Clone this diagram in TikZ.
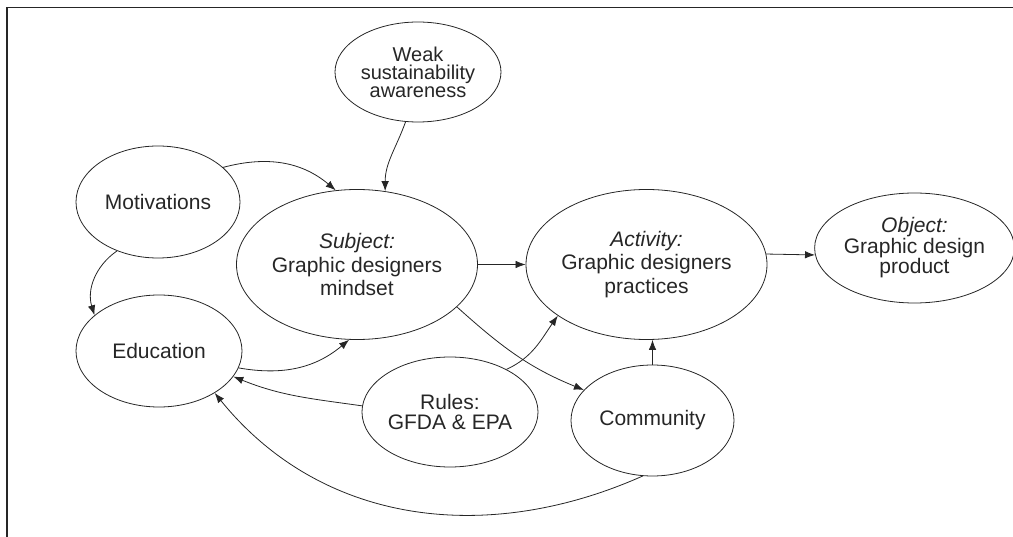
\documentclass[tikz,border=0pt]{standalone}
\usepackage{fontspec}
\setmainfont{Liberation Sans}
\usetikzlibrary{shapes.geometric,arrows.meta}

\tikzset{
  bubble/.style={ellipse, draw=black!85, line width=0.8pt, inner sep=0pt,
    align=center, text=black!85},
  link/.style={draw=black!85, line width=0.8pt,
    -{Latex[length=10pt,width=7.5pt]}},
  tight/.style={font=\fontsize{20}{18}\selectfont},
  loose/.style={font=\fontsize{21}{23.5}\selectfont},
  mid/.style={font=\fontsize{21}{20.5}\selectfont},
}

\begin{document}
\begin{tikzpicture}[x=1pt,y=1pt]
  \useasboundingbox (0,0) rectangle (1013,-537);
  % frame edges along the top and left
  \draw[line width=1.8pt, black!85] (7,-537) -- (7,-7.5) -- (1013,-7.5);

  % nodes
  \node[bubble, tight, minimum width=166, minimum height=100] (weak) at (418,-72)
    {Weak\\sustainability\\awareness};
  \node[bubble, mid, minimum width=164, minimum height=112] (mot) at (158,-202)
    {Motivations};
  \node[bubble, loose, minimum width=222, minimum height=150] (subj) at (357,-264.5)
    {\textit{Subject:}\\Graphic designers\\mindset};
  \node[bubble, loose, minimum width=217, minimum height=150] (act) at (646.5,-264.5)
    {\textit{Activity:}\\Graphic designers\\practices};
  \node[bubble, mid, minimum width=163, minimum height=110] (obj) at (914.5,-248)
    {\textit{Object:}\\Graphic design\\product};
  \node[bubble, mid, minimum width=166, minimum height=112] (edu) at (159,-351)
    {Education};
  \node[bubble, mid, minimum width=164, minimum height=110] (rules) at (450,-412)
    {Rules:\\GFDA \& EPA};
  \node[bubble, mid, minimum width=163, minimum height=111] (comm) at (652.5,-420.5)
    {Community};

  % connectors
  \draw[link] (mot.28) to[out=15, in=140] (subj.106);
  \draw[link] (weak.256) to[out=250, in=90] (subj.69);
  \draw[link] (mot.230) to[out=215, in=107] (edu.151);
  \draw[link] (subj.east) -- (act.west);
  \draw[link] (act.5.6) -- (obj.184.2);
  \draw[link] (edu.348) to[out=-10, in=220] (subj.264.5);
  \draw[link] (rules.176) to[out=172, in=-22] (edu.341);
  \draw[link] (comm.260) to[out=204, in=-51] (edu.323);
  \draw[link] (rules.37) to[out=25, in=235] (act.210);
  \draw[link] (subj.337) to[out=-42, in=158] (comm.156);
  \draw[link] (comm.north) -- (comm.north |- act.south);
\end{tikzpicture}
\end{document}
